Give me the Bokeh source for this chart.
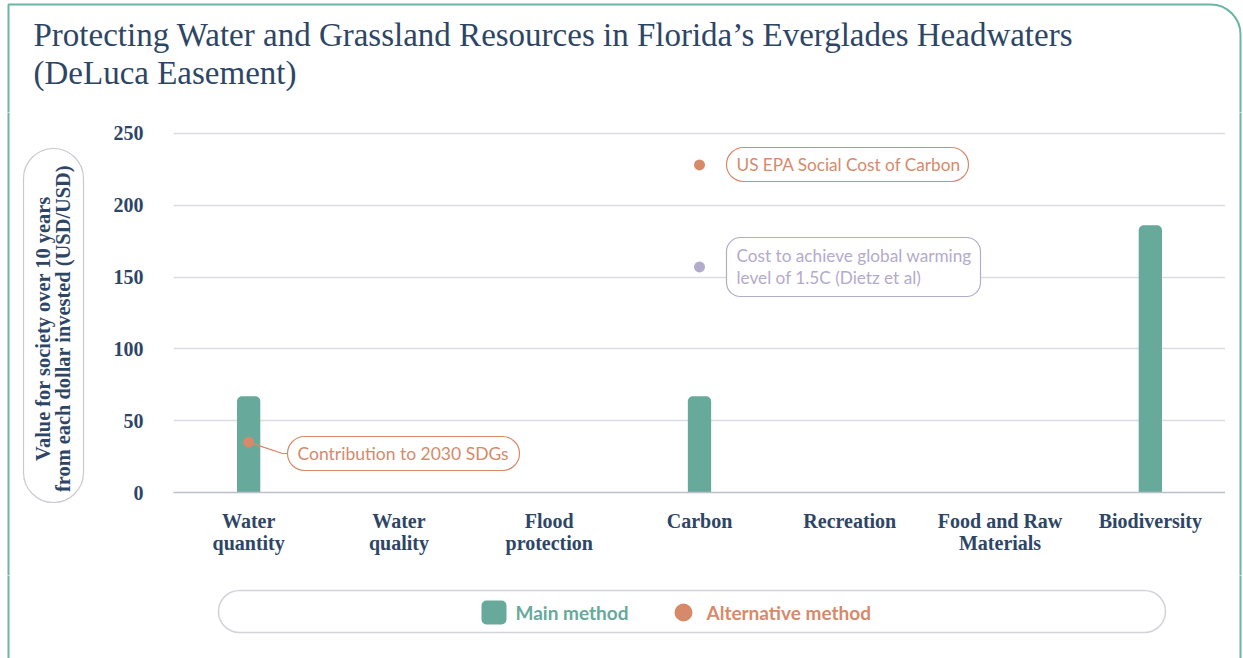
import numpy as np
from bokeh.plotting import figure
from bokeh.layouts import column, row
from bokeh.models import (FactorRange, Range1d, Label, BoxAnnotation,
                          ColumnDataSource, FixedTicker)
from bokeh.embed import file_html
from bokeh.resources import INLINE

# ---------------- data ----------------
categories = ["Water\nquantity", "Water\nquality", "Flood\nprotection", "Carbon",
              "Recreation", "Food and Raw\nMaterials", "Biodiversity"]
main_values = [67, None, None, 67, None, None, 186]
alt_categories = ["Water\nquantity", "Carbon"]
alt_values = [35, 228]
alt_labels = ["Contribution to 2030 SDGs", "US EPA Social Cost of Carbon"]
dietz_categories = ["Carbon"]
dietz_values = [157]
dietz_label = "Cost to achieve global warming\nlevel of 1.5C (Dietz et al)"
y_ticks = [0, 50, 100, 150, 200, 250]
title_lines = ["Protecting Water and Grassland Resources in Florida\u2019s Everglades Headwaters",
               "(DeLuca Easement)"]
y_title = "Value for society over 10 years\nfrom each dollar invested (USD/USD)"
legend_labels = ["Main method", "Alternative method"]

# ---------------- style ----------------
NAVY = "#2e4666"
GREEN = "#67a99a"
ORANGE = "#d68a6a"
PURPLE = "#b4aacb"
TEAL = "#6cb5a5"
GRID = "#dcdce3"
AXIS = "#bcbfcc"
CAPSULE = "#c9c9d0"

PAGE_W, PAGE_H = 1243, 658
TOP_H = 112          # title strip height
BOT_Y = 575          # legend strip starts here
LEFT_W = 95          # y-title strip width
RIGHT_X = 1225       # right strip starts here
FL, FR, FT, FB = 173, 1225, 130, 492   # main frame edges (page px)
Y_END = 252
PX_CAT = (FR - FL) / len(categories)
PX_UNIT = (FB - FT) / Y_END


def xd(px):
    return (px - FL) / PX_CAT


def yd(py):
    return (FB - py) / PX_UNIT


def no_align(f):
    if "frame_align" in f.properties():
        f.frame_align = False


def deco_fig(x0, x1, y0, y1):
    f = figure(width=x1 - x0, height=y1 - y0, x_range=Range1d(x0, x1),
               y_range=Range1d(-y1, -y0), output_backend="svg",
               toolbar_location=None, x_axis_location=None, y_axis_location=None,
               min_border=0)
    f.outline_line_color = None
    f.background_fill_color = "white"
    f.border_fill_color = "white"
    f.xgrid.visible = False
    f.ygrid.visible = False
    no_align(f)
    return f


def box(f, l, r, t, b, line_color, radius, fill_color="white", fill_alpha=1.0, lw=1.2):
    f.add_layout(BoxAnnotation(left=l, right=r, top=t, bottom=b,
                               fill_color=fill_color, fill_alpha=fill_alpha,
                               line_color=line_color, line_alpha=1.0, line_width=lw,
                               border_radius=radius))


def label(f, x, y, text, color, font="Lato", size="17px", style="normal",
          align="left", baseline="middle", angle=0, lh=1.2):
    f.add_layout(Label(x=x, y=y, text=text, text_color=color, text_font=font,
                       text_font_size=size, text_font_style=style, text_align=align,
                       text_baseline=baseline, angle=angle, text_line_height=lh))


def card_border(f):
    box(f, 8, 1240, -4, -2000, TEAL, (0, 30, 0, 0), fill_alpha=0, lw=2)


# ---------------- title strip ----------------
top = deco_fig(0, PAGE_W, 0, TOP_H)
card_border(top)
label(top, 33, -34, title_lines[0], NAVY, font="Liberation Serif", size="33px")
label(top, 33, -72, title_lines[1], NAVY, font="Liberation Serif", size="33px")

# ---------------- y-title strip ----------------
left = deco_fig(0, LEFT_W, TOP_H, BOT_Y)
card_border(left)
box(left, 23, 83, -148, -502, CAPSULE, 30, fill_alpha=0)
label(left, 52.5, -328, y_title, NAVY, font="Liberation Serif", size="20.4px",
      style="bold", align="center", angle=np.pi / 2, lh=0.93)

# ---------------- right strip ----------------
right = deco_fig(RIGHT_X, PAGE_W, TOP_H, BOT_Y)
card_border(right)

# ---------------- main chart ----------------
p = figure(width=RIGHT_X - LEFT_W, height=BOT_Y - TOP_H,
           x_range=FactorRange(factors=categories), y_range=Range1d(0, Y_END),
           output_backend="svg", toolbar_location=None,
           min_border_left=FL - LEFT_W, min_border_right=RIGHT_X - FR,
           min_border_top=FT - TOP_H, min_border_bottom=BOT_Y - FB)
p.outline_line_color = None
p.background_fill_color = "white"
p.border_fill_color = "white"
no_align(p)

p.yaxis.ticker = FixedTicker(ticks=y_ticks)
p.yaxis.axis_line_color = None
p.yaxis.major_tick_line_color = None
p.yaxis.minor_tick_line_color = None
p.yaxis.major_label_standoff = 24
p.yaxis.major_label_text_font = "Liberation Serif"
p.yaxis.major_label_text_font_style = "bold"
p.yaxis.major_label_text_font_size = "20px"
p.yaxis.major_label_text_color = NAVY

p.xaxis.axis_line_color = AXIS
p.xaxis.axis_line_width = 1.5
p.xaxis.major_tick_line_color = None
p.xaxis.major_label_standoff = 11
p.xaxis.major_label_text_font = "Liberation Serif"
p.xaxis.major_label_text_font_style = "bold"
p.xaxis.major_label_text_font_size = "20px"
p.xaxis.major_label_text_color = NAVY
p.xaxis.major_label_text_line_height = 1.04

p.xgrid.grid_line_color = None
p.ygrid.grid_line_color = GRID
p.ygrid.grid_line_width = 1.5

bar_src = ColumnDataSource(dict(
    cat=[c for c, v in zip(categories, main_values) if v is not None],
    val=[v for v in main_values if v is not None]))
p.vbar(x="cat", top="val", width=0.155, source=bar_src, fill_color=GREEN,
       line_color=None, border_radius=(5, 5, 0, 0))

# leader line for the SDG callout
p.line(x=[categories.index(alt_categories[0]) + 0.5, xd(282), xd(287)],
       y=[alt_values[0], yd(453), yd(453)], line_color=ORANGE, line_width=1.2)

p.scatter(x=alt_categories, y=alt_values, size=11, fill_color=ORANGE, line_color=None)
p.scatter(x=dietz_categories, y=dietz_values, size=11, fill_color=PURPLE, line_color=None)

# callouts (positions given in page px, converted to chart coordinates)
box(p, xd(287), xd(519), yd(436), yd(470), ORANGE, 17)
label(p, xd(297), yd(453), alt_labels[0], ORANGE, size="17.5px")
box(p, xd(726), xd(968), yd(147), yd(181), ORANGE, 17)
label(p, xd(736), yd(164), alt_labels[1], ORANGE, size="17.2px")
box(p, xd(726), xd(980), yd(237), yd(296), PURPLE, 14)
label(p, xd(736), yd(266), dietz_label, PURPLE, size="17.2px", lh=1.08)

# ---------------- legend strip ----------------
bottom = deco_fig(0, PAGE_W, BOT_Y, PAGE_H)
card_border(bottom)
box(bottom, 218, 1165, -590, -632, "#d3d3da", 21, fill_alpha=0, lw=1.5)
box(bottom, 481, 506, -600, -624, None, 5, fill_color=GREEN)
label(bottom, 515, -612, legend_labels[0], GREEN, size="19px", style="bold")
box(bottom, 674, 692, -603, -621, None, 9, fill_color=ORANGE)
label(bottom, 706, -612, legend_labels[1], ORANGE, size="19px", style="bold")

layout = column(top, row(left, p, right), bottom)

open("out.html", "w").write(file_html(layout, INLINE))
